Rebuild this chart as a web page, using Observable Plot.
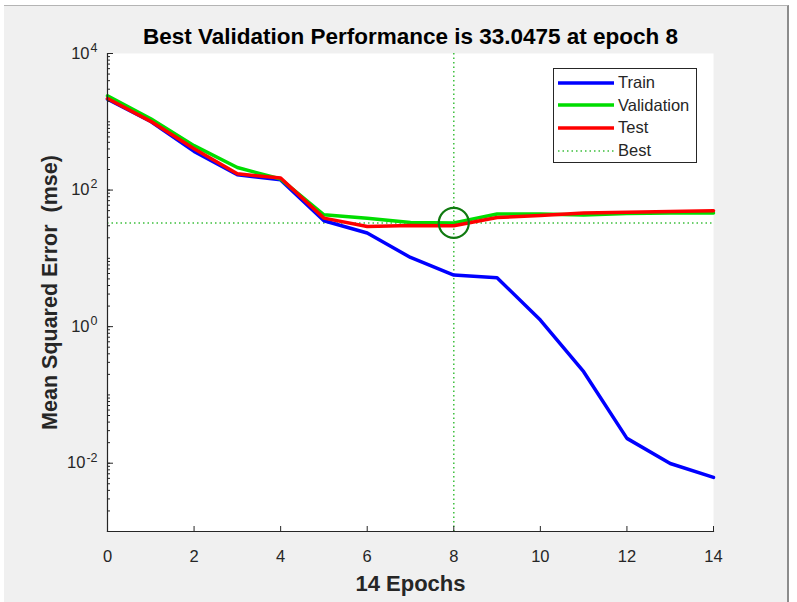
<!DOCTYPE html>
<html>
<head>
<meta charset="utf-8">
<script src="https://cdn.jsdelivr.net/npm/d3@7"></script>
<script src="https://cdn.jsdelivr.net/npm/@observablehq/plot@0.6"></script>
<style>
  html, body { margin: 0; padding: 0; background: #ffffff; }
  #fig { position: absolute; left: 4px; top: 5px; width: 783px; height: 597px; background: #f0f0f0;
         border-top: 1px solid #b4b4b4; border-right: 2px solid #8c8c8c; }
  #chart { position: absolute; left: 0; top: 0; }
  #legend { position: absolute; left: 553px; top: 68px; width: 144px; height: 95px; background: #fff;
            border: 1px solid #262626; box-sizing: border-box; font-family: "Liberation Sans", Arial, sans-serif;
            font-size: 16.5px; color: #262626; }
  .row { position: absolute; left: 4px; height: 20px; display: flex; align-items: center; }
  .row svg { width: 56px; height: 8px; margin-right: 4px; }
</style>
</head>
<body>
<div id="fig"></div>
<div id="chart"></div>
<div id="legend"></div>
<script>
// ---- data ----
const epochs = [0, 1, 2, 3, 4, 5, 6, 7, 8, 9, 10, 11, 12, 13, 14];
const train = [2150, 1010, 368, 168, 141, 35.5, 23.5, 10.3, 5.7, 5.2, 1.25, 0.219, 0.0231, 0.0099, 0.0062];
const validation = [2400, 1110, 447, 214, 145, 43.4, 38.8, 33.5, 33.0475, 44.5, 44.8, 43, 45.5, 46, 46];
const test = [2190, 1015, 403, 173, 150, 38.8, 29.3, 30.2, 30, 39.6, 42.4, 46, 47.5, 48.5, 50];
const bestEpoch = 8;
const bestValue = 33.0475;
const seriesNames = ["Train", "Validation", "Test", "Best"];
const seriesColors = ["#0000ff", "#00dd00", "#ff0000", "#3cbf3c"];
const xTicks = [0, 2, 4, 6, 8, 10, 12, 14];
const yMajorTicks = [1e-2, 1, 1e2, 1e4];
const yExponents = ["-2", "0", "2", "4"];
const yDomain = [1e-3, 1e4];
const titleText = "Best Validation Performance is 33.0475 at epoch 8";
const xLabelText = "14 Epochs";
const yLabelText = "Mean Squared Error  (mse)";

// minor log ticks (axis decoration)
const yMinorTicks = [];
for (let e = -3; e < 4; e++) for (let m = 1; m <= 9; m++) yMinorTicks.push(m * Math.pow(10, e));
yMinorTicks.push(1e4);

const toRows = (vals) => epochs.map((e, i) => ({epoch: e, value: vals[i]}));
const font = "Liberation Sans, Arial, sans-serif";
const ink = "#262626";

const chart = Plot.plot({
  width: 797,
  height: 602,
  marginLeft: 107,
  marginRight: 84,
  marginTop: 53,
  marginBottom: 71,
  style: {background: "transparent", fontFamily: font, color: ink, overflow: "visible"},
  x: {domain: [0, 14]},
  y: {type: "log", domain: yDomain},
  marks: [
    Plot.frame({fill: "white", stroke: null}),
    // best dotted guides
    Plot.ruleX([bestEpoch], {stroke: seriesColors[3], strokeWidth: 1.5, strokeDasharray: "1.5,3"}),
    Plot.ruleY([bestValue], {stroke: seriesColors[3], strokeWidth: 1.5, strokeDasharray: "1.5,3"}),
    // series
    Plot.line(toRows(train), {x: "epoch", y: "value", stroke: seriesColors[0], strokeWidth: 3.5}),
    Plot.line(toRows(validation), {x: "epoch", y: "value", stroke: seriesColors[1], strokeWidth: 3.5}),
    Plot.line(toRows(test), {x: "epoch", y: "value", stroke: seriesColors[2], strokeWidth: 3.5}),
    Plot.dot([{epoch: bestEpoch, value: bestValue}], {x: "epoch", y: "value", r: 15, stroke: "#107a10", strokeWidth: 2.2, fill: "none"}),
    // axis lines
    Plot.frame({anchor: "left", stroke: ink, strokeWidth: 1.2}),
    Plot.frame({anchor: "bottom", stroke: ink, strokeWidth: 1.2}),
    // y ticks (inward)
    Plot.axisY({ticks: yMinorTicks, tickSize: -3, tickFormat: () => "", label: null, stroke: ink}),
    Plot.axisY({ticks: yMajorTicks, tickSize: -6, tickFormat: () => "", label: null, stroke: ink}),
    Plot.axisY({ticks: yMajorTicks, tickSize: 0, tickPadding: 10, tickFormat: () => "10", label: null,
                fontSize: 16.5, fill: ink}),
    // x ticks (inward)
    Plot.axisX({ticks: xTicks, tickSize: -5, tickFormat: () => "", label: null, stroke: ink}),
    Plot.axisX({ticks: xTicks, tickSize: 0, tickPadding: 19, label: null, fontSize: 16.5, fill: ink}),
    // texts
    Plot.text([titleText], {frameAnchor: "top", dy: -17, lineAnchor: "middle", textAnchor: "middle", fontSize: 22.5, fontWeight: "bold", fill: "#000"}),
    Plot.text([xLabelText], {frameAnchor: "bottom", dy: 52, lineAnchor: "middle", textAnchor: "middle", fontSize: 22, fontWeight: "bold", fill: ink}),
    Plot.text([yLabelText], {frameAnchor: "left", dx: -57, rotate: -90, lineAnchor: "middle", textAnchor: "middle", fontSize: 21.5, fontWeight: "bold", fill: ink})
  ]
});
document.getElementById("chart").appendChild(chart);

// add superscript exponents to y tick labels "10"
let k = 0;
d3.select(chart).selectAll('g[aria-label="y-axis tick label"] text').each(function () {
  const t = d3.select(this);
  if (t.text() !== "10") return;
  const v = t.datum();
  const idx = yMajorTicks.indexOf(v);
  const exp = idx >= 0 ? yExponents[idx] : yExponents[k];
  k++;
  t.append("tspan").attr("dy", "-0.55em").attr("font-size", "12.5px").attr("dx", "1").text(exp);
});

// legend
const legend = document.getElementById("legend");
seriesNames.forEach((name, i) => {
  const row = document.createElement("div");
  row.className = "row";
  row.style.top = (3.5 + i * 22.7) + "px";
  const dotted = i === 3;
  row.innerHTML = `<svg><line x1="0" x2="56" y1="4" y2="4" stroke="${seriesColors[i]}" stroke-width="${dotted ? 1.5 : 3.5}" ${dotted ? 'stroke-dasharray="1.5,3"' : ""}/></svg><span>${name}</span>`;
  legend.appendChild(row);
});
</script>
</body>
</html>
